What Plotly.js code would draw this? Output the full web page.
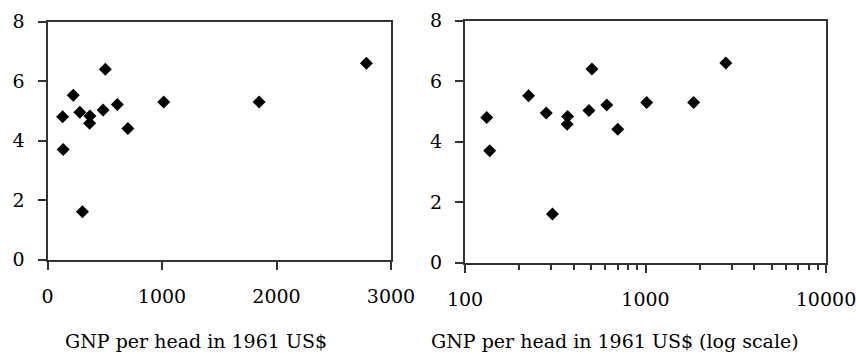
<!DOCTYPE html>
<html>
<head>
<meta charset="utf-8">
<script src="https://cdn.plot.ly/plotly-3.0.1.min.js"></script>
<style>
html,body{margin:0;padding:0;background:#fff;}
#chart{width:856px;height:356px;}
</style>
</head>
<body>
<div id="chart"></div>
<script>
// GNP per head in 1961 US$ and the growth rate (same countries in both panels)
const gnpPerHead = [132, 137, 225, 282, 305, 370, 368, 486, 505, 610, 702, 1015, 1848, 2785];
const growthRate = [4.80, 3.70, 5.52, 4.95, 1.61, 4.83, 4.58, 5.03, 6.40, 5.21, 4.41, 5.30, 5.30, 6.60];

const linearTicks = [0, 1000, 2000, 3000];
const logTicks = [100, 1000, 10000];
const yTicks = [0, 2, 4, 6, 8];

const xTitleLeft = 'GNP per head in 1961 US$';
const xTitleRight = 'GNP per head in 1961 US$ (log scale)';

const FONT = 'DejaVu Serif';
const AX = '#333333';

const marker = {symbol: 'diamond', size: 10, color: '#000000', line: {width: 0}};

const traces = [
  {x: gnpPerHead, y: growthRate, type: 'scatter', mode: 'markers', marker: marker, xaxis: 'x', yaxis: 'y', hoverinfo: 'skip'},
  {x: gnpPerHead, y: growthRate, type: 'scatter', mode: 'markers', marker: marker, xaxis: 'x2', yaxis: 'y2', hoverinfo: 'skip'}
];

const common = {
  showline: true, linecolor: AX, linewidth: 2, mirror: true,
  ticks: 'outside', ticklen: 8, tickwidth: 2, tickcolor: AX,
  showgrid: false, zeroline: false,
  ticklabeloverflow: 'allow',
  tickfont: {family: FONT, size: 19, color: '#000'}
};

const layout = {
  width: 856, height: 356,
  margin: {l: 0, r: 0, t: 0, b: 0},
  paper_bgcolor: '#fff', plot_bgcolor: '#fff',
  showlegend: false,
  font: {family: FONT, color: '#000'},
  xaxis: Object.assign({}, common, {
    domain: [47.5/856, 391/856], anchor: 'y',
    range: [0, 3000], tickvals: linearTicks, ticktext: linearTicks.map(String),
    ticklabelstandoff: 10
  }),
  yaxis: Object.assign({}, common, {
    domain: [(356-259.7)/356, (356-21.5)/356], anchor: 'x',
    range: [0, 8], tickvals: yTicks, ticktext: yTicks.map(String),
    ticklabelstandoff: 9
  }),
  xaxis2: Object.assign({}, common, {
    domain: [465/856, 826/856], anchor: 'y2',
    type: 'log', range: [2, 4], tickvals: logTicks, ticktext: logTicks.map(String),
    ticklabelstandoff: 10,
    minor: {ticks: 'outside', ticklen: 5, tickwidth: 2, tickcolor: AX, dtick: 'D1', showgrid: false}
  }),
  yaxis2: Object.assign({}, common, {
    domain: [(356-262.7)/356, (356-20.7)/356], anchor: 'x2',
    range: [0, 8], tickvals: yTicks, ticktext: yTicks.map(String),
    ticklabelstandoff: 9
  }),
  annotations: [
    {text: xTitleLeft, xref: 'paper', yref: 'paper', x: 196/856, y: (356-341)/356,
     xanchor: 'center', yanchor: 'middle', showarrow: false, font: {family: FONT, size: 19, color: '#000'}},
    {text: xTitleRight, xref: 'paper', yref: 'paper', x: 614.5/856, y: (356-341)/356,
     xanchor: 'center', yanchor: 'middle', showarrow: false, font: {family: FONT, size: 19, color: '#000'}}
  ]
};

Plotly.newPlot('chart', traces, layout, {staticPlot: true, displayModeBar: false});
</script>
</body>
</html>
